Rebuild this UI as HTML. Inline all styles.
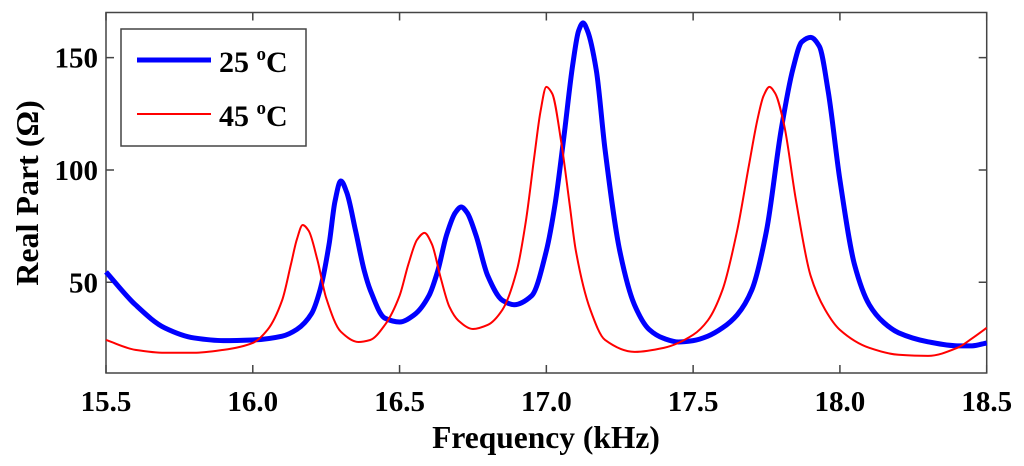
<!DOCTYPE html>
<html><head><meta charset="utf-8"><style>
body{margin:0;background:#fff}
svg{display:block;font-family:"Liberation Serif",serif;font-weight:bold}
</style></head><body>
<svg id="chart" width="1024" height="466" viewBox="0 0 1024 466">
<rect x="106" y="12.5" width="880.7" height="360.5" fill="#fff" stroke="#444" stroke-width="1.5"/>
<g id="ticks"></g>
<g id="series"></g>
<text x="546" y="448" font-size="31.5" text-anchor="middle">Frequency (kHz)</text>
<text transform="translate(38,193) rotate(-90)" font-size="32" text-anchor="middle">Real Part (Ω)</text>
<g>
<rect x="121" y="29" width="185" height="117" fill="#fff" stroke="#444" stroke-width="1.5"/>
<line x1="137" y1="60" x2="211" y2="60" stroke="#0000ff" stroke-width="5"/>
<text x="219" y="72" font-size="30">25 <tspan font-size="19" dy="-12">o</tspan><tspan dy="12">C</tspan></text>
<line x1="137" y1="114" x2="211" y2="114" stroke="#ff0000" stroke-width="2"/>
<text x="219" y="126" font-size="30">45 <tspan font-size="19" dy="-12">o</tspan><tspan dy="12">C</tspan></text>
</g>
</svg>
<script>
const xTicks=[15.5,16.0,16.5,17.0,17.5,18.0,18.5];
const xTickLabels=["15.5","16.0","16.5","17.0","17.5","18.0","18.5"];
const yTicks=[50,100,150];
const yTickLabels=["50","100","150"];
const freq25=[15.5,15.6,15.7,15.8,15.9,16.0,16.1,16.15,16.2,16.23,16.26,16.28,16.3,16.32,16.35,16.38,16.4,16.45,16.5,16.55,16.6,16.63,16.66,16.69,16.71,16.73,16.76,16.8,16.85,16.89,16.95,17.0,17.03,17.06,17.09,17.11,17.125,17.14,17.17,17.2,17.25,17.3,17.35,17.4,17.45,17.5,17.55,17.6,17.65,17.7,17.75,17.8,17.84,17.87,17.9,17.93,17.96,18.0,18.05,18.1,18.15,18.2,18.3,18.4,18.45,18.5];
const real25=[54.6,40,29.7,25.2,24,24.3,26,29,36,47,67,86,95.1,90,73,55,46.6,34,32.3,35.5,44,55,71,81,83.5,81,71,53,42,40,44,64,85,115,147,162,165.5,162,144.5,109,64,40,29,25,23.4,24,26,29.7,35.5,46.6,73,118,145,157,159,155,135,95.5,57.7,40,32,27.5,23.5,21.7,21.7,23];
const freq45=[15.5,15.6,15.7,15.8,15.9,16.0,16.05,16.1,16.13,16.15,16.17,16.19,16.22,16.25,16.3,16.36,16.4,16.45,16.5,16.53,16.56,16.585,16.61,16.64,16.67,16.7,16.75,16.8,16.85,16.9,16.93,16.96,16.98,17.0,17.02,17.05,17.08,17.1,17.15,17.2,17.3,17.4,17.5,17.55,17.6,17.65,17.69,17.72,17.74,17.76,17.78,17.81,17.85,17.9,17.95,18.0,18.1,18.2,18.3,18.4,18.45,18.5];
const real45=[24.3,19.9,18.6,18.6,19.9,23,28.8,42,58,69,75.5,73,60,43,28,23.4,24.3,31,44,58,69,72,67,52,39,33,29.2,31,37.7,55.5,77,107,126,137,134,113,84,64.4,37.7,24.3,19,20.8,26.6,33,46.6,73,102,123,133,137,134,120,86.7,53,37.7,28.8,20.8,17.7,17.2,20.8,25,29.7];
const X0=106,X1=986.7,Y0=373,Y1=12.5,XMIN=15.5,XMAX=18.5,YMIN=9.6,YMAX=170.1;
const xs=f=>X0+(f-XMIN)/(XMAX-XMIN)*(X1-X0);
const ys=v=>Y0-(v-YMIN)/(YMAX-YMIN)*(Y0-Y1);
const NS="http://www.w3.org/2000/svg";
const tg=document.getElementById('ticks');
xTicks.forEach((t,i)=>{
 const x=xs(t);
 const l=document.createElementNS(NS,'path');
 l.setAttribute('d',`M${x},${Y0}v-8M${x},${Y1}v8`);l.setAttribute('stroke','#444');l.setAttribute('stroke-width','1.5');
 
 
 tg.appendChild(l);
 const tx=document.createElementNS(NS,'text');
 tx.setAttribute('x',x);tx.setAttribute('y',411);tx.setAttribute('font-size','29');tx.setAttribute('text-anchor','middle');
 tx.textContent=xTickLabels[i];
 
 
 tg.appendChild(tx);
});
yTicks.forEach((t,i)=>{
 const y=ys(t);
 const l=document.createElementNS(NS,'path');
 l.setAttribute('d',`M${X0},${y}h8M${X1},${y}h-8`);l.setAttribute('stroke','#444');l.setAttribute('stroke-width','1.5');
 
 
 tg.appendChild(l);
 const tx=document.createElementNS(NS,'text');
 tx.setAttribute('x',98);tx.setAttribute('y',y+10);tx.setAttribute('font-size','29');tx.setAttribute('text-anchor','end');
 tx.textContent=yTickLabels[i];
 
 
 tg.appendChild(tx);
});
function pathFor(fx,vy){
 const p=fx.map((f,i)=>[xs(f),ys(vy[i])]);
 const n=p.length,m=new Array(n),d0=[];
 for(let i=0;i<n-1;i++)d0.push((p[i+1][1]-p[i][1])/(p[i+1][0]-p[i][0]));
 m[0]=d0[0];m[n-1]=d0[n-2];
 for(let i=1;i<n-1;i++){
  if(d0[i-1]*d0[i]<=0)m[i]=0;
  else{const h0=p[i][0]-p[i-1][0],h1=p[i+1][0]-p[i][0];const w1=2*h1+h0,w2=h1+2*h0;m[i]=(w1+w2)/(w1/d0[i-1]+w2/d0[i]);}
 }
 let d=`M${p[0][0]},${p[0][1]}`;
 for(let i=0;i<n-1;i++){
  const h=(p[i+1][0]-p[i][0])/3;
  d+=`C${p[i][0]+h},${p[i][1]+m[i]*h} ${p[i+1][0]-h},${p[i+1][1]-m[i+1]*h} ${p[i+1][0]},${p[i+1][1]}`;
 }
 return d;
}
const sg=document.getElementById('series');
const b=document.createElementNS(NS,'path');
b.setAttribute('d',pathFor(freq25,real25));b.setAttribute('fill','none');b.setAttribute('stroke','#0000ff');b.setAttribute('stroke-width','5');b.setAttribute('stroke-linejoin','round');


sg.appendChild(b);
const r=document.createElementNS(NS,'path');
r.setAttribute('d',pathFor(freq45,real45));r.setAttribute('fill','none');r.setAttribute('stroke','#ff0000');r.setAttribute('stroke-width','2');


sg.appendChild(r);
</script>
</body></html>
